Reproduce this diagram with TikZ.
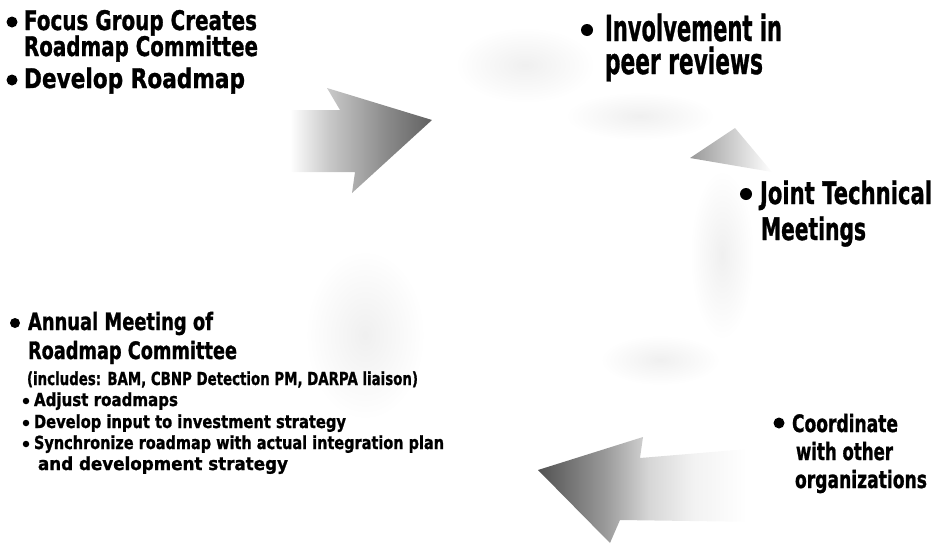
\documentclass[tikz,border=0pt]{standalone}
\usepackage{fontspec}
\setmainfont{DejaVu Sans}[BoldFeatures={FakeBold=1.2}]
\usepackage{graphicx}
\newcommand{\fitline}[3]{\resizebox{#1pt}{\height}{\fontsize{#2}{#2}\selectfont\bfseries #3}}
\pgfdeclarehorizontalshading{fadeR}{100bp}{color(0bp)=(white); color(25bp)=(white); color(36bp)=(white); color(47bp)=(black!22); color(62bp)=(black!45); color(75bp)=(black!62); color(100bp)=(black!62)}
\pgfdeclarehorizontalshading{fadeL}{100bp}{color(0bp)=(black!68); color(25bp)=(black!68); color(40bp)=(black!40); color(50bp)=(black!16); color(60bp)=(black!5); color(72bp)=(white); color(100bp)=(white)}
\tikzset{
  txt/.style={anchor=base west, inner sep=0pt, outer sep=0pt},
  bul/.style={fill=black, circle, inner sep=0pt, minimum size=#1},
  cloud/.style={inner color=black!6, outer color=white},
}
\begin{document}
\begin{tikzpicture}[x=1pt,y=-1pt]
\useasboundingbox (0,0) rectangle (935,544);
% faint dithered background traces of the cycle
\shade[cloud] (525,65) ellipse [x radius=70pt, y radius=38pt];
\shade[cloud] (640,116) ellipse [x radius=75pt, y radius=24pt];
\shade[cloud] (722,255) ellipse [x radius=32pt, y radius=85pt];
\shade[cloud] (365,335) ellipse [x radius=60pt, y radius=85pt];
\shade[cloud] (660,360) ellipse [x radius=60pt, y radius=25pt];
% arrow top-left (pointing right)
\shade[shading=fadeR] (250,110) -- (340,110) -- (327,88) -- (432,120) -- (352,193) -- (355,172) -- (250,172) -- cycle;
% faint arrow head upper right
\shade[left color=black!40, right color=white] (690,158) -- (735,128) -- (772,172) -- cycle;
% arrow bottom (pointing left)
\shade[shading=fadeL] (760,448) -- (640,458) -- (643,437) -- (538,470) -- (610,543) -- (620,520) -- (760,522) -- cycle;
% Block A
\node[bul=11pt] (bA1) at (12,22) {};
\node[txt] (a1) at (24,30) {\fitline{233}{27}{Focus Group Creates}};
\node[txt] (a2) at (24,56) {\fitline{234}{27}{Roadmap Committee}};
\node[bul=11pt] (bA2) at (12,80) {};
\node[txt] (a3) at (24,88) {\fitline{221}{27}{Develop Roadmap}};
% Block B
\node[bul=12pt] (bB) at (587,30) {};
\node[txt] (b1) at (605,41) {\fitline{177}{36}{Involvement in}};
\node[txt] (b2) at (605,74) {\fitline{158}{36}{peer reviews}};
% Block C
\node[bul=12pt] (bC) at (746,194) {};
\node[txt] (c1) at (760,204) {\fitline{172}{31}{Joint Technical}};
\node[txt] (c2) at (761,240) {\fitline{105}{31}{Meetings}};
% Block D
\node[bul=11pt] (bD) at (779,423) {};
\node[txt] (d1) at (792,432) {\fitline{106}{24}{Coordinate}};
\node[txt] (d2) at (796,460) {\fitline{97}{24}{with other}};
\node[txt] (d3) at (795,488) {\fitline{132}{24}{organizations}};
% Block E
\node[bul=10pt] (bE) at (15,323) {};
\node[txt] (e1) at (28,330) {\fitline{185}{24}{Annual Meeting of}};
\node[txt] (e2) at (28,359) {\fitline{209}{24}{Roadmap Committee}};
\node[txt] (e3) at (27,385) {\fitline{391}{18}{(includes: BAM, CBNP Detection PM, DARPA liaison)}};
\node[bul=6.5pt] (bE1) at (26,401) {};
\node[txt] (e4) at (34,406) {\fitline{144}{18}{Adjust roadmaps}};
\node[bul=6.5pt] (bE2) at (26,423) {};
\node[txt] (e5) at (34,428) {\fitline{312}{18}{Develop input to investment strategy}};
\node[bul=6.5pt] (bE3) at (26,444) {};
\node[txt] (e6) at (34,449) {\fitline{410}{18}{Synchronize roadmap with actual integration plan}};
\node[txt] (e7) at (38,470) {\fitline{250}{18}{and development strategy}};
\end{tikzpicture}
\end{document}
